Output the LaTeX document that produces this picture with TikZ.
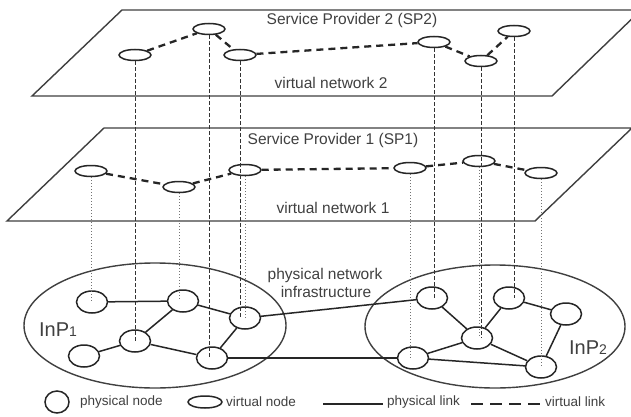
\documentclass[tikz,border=0pt]{standalone}
\usepackage{fontspec}
\setmainfont{Liberation Sans}
\usetikzlibrary{shapes.geometric}
\begin{document}
\begin{tikzpicture}[x=1pt,y=-1pt,
  pnode/.style={draw=black!85, line width=1.5pt, ellipse, minimum width=31pt, minimum height=22pt, inner sep=0pt},
  vnode/.style={draw=black!85, line width=1.5pt, ellipse, minimum width=32pt, minimum height=11pt, inner sep=0pt},
  vlink/.style={draw=black!85, line width=2.3pt, dash pattern=on 7pt off 5pt},
  plink/.style={draw=black!85, line width=1.5pt},
  vdash/.style={draw=black!80, line width=0.9pt, dash pattern=on 3.5pt off 2.5pt},
  vdot/.style={draw=black!55, line width=1pt, dash pattern=on 1pt off 2pt},
  plane/.style={draw=black!75, line width=1.4pt},
  lbl/.style={text=black!75, inner sep=0pt, font=\fontsize{15.5}{18}\selectfont},
  leg/.style={text=black!75, inner sep=0pt, anchor=west, font=\fontsize{13.5}{16}\selectfont}
]
\useasboundingbox (0,0) rectangle (631,417);
\clip (0,0) rectangle (631,417);
\fill[white] (0,0) rectangle (631,417);

% planes
\draw[plane] (122,10) -- (641,10) -- (552,96) -- (32,96) -- cycle;
\draw[plane] (104,128) -- (632,128) -- (535,221) -- (7,221) -- cycle;

\node[lbl] (t2) at (352,20) {Service Provider 2 (SP2)};
\node[lbl] (n2) at (331,83) {virtual network 2};
\node[lbl] (t1) at (333,140) {Service Provider 1 (SP1)};
\node[lbl] (n1) at (333,208) {virtual network 1};

% infrastructure ellipses
\draw[plane] (155,325.5) ellipse [x radius=131, y radius=62.5];
\draw[plane] (495,326.5) ellipse [x radius=130, y radius=61.5];
\node[lbl] (pn) at (325,275) {physical network};
\node[lbl] (inf) at (326,292) {infrastructure};
\node[text=black!75, inner sep=0pt] (inp1) at (58,330) {\fontsize{20}{24}\selectfont InP\fontsize{14}{16}\selectfont 1};
\node[text=black!75, inner sep=0pt] (inp2) at (588,348) {\fontsize{20}{24}\selectfont InP\fontsize{14}{16}\selectfont 2};

% physical nodes
\node[pnode] (a) at (92,302) {};
\node[pnode] (b) at (183,301) {};
\node[pnode] (c) at (245,318) {};
\node[pnode] (d) at (135,341) {};
\node[pnode] (e) at (84,356) {};
\node[pnode] (f) at (212,358) {};
\node[pnode] (q1) at (432,298) {};
\node[pnode] (q2) at (509,298) {};
\node[pnode] (q3) at (566,314) {};
\node[pnode] (q4) at (477,338) {};
\node[pnode] (q5) at (413,358) {};
\node[pnode] (q6) at (541,367) {};

% virtual nodes SP2
\node[vnode] (s2a) at (135,55) {};
\node[vnode] (s2b) at (209,29) {};
\node[vnode] (s2c) at (240,55) {};
\node[vnode] (s2d) at (434,42) {};
\node[vnode] (s2e) at (481,61) {};
\node[vnode] (s2f) at (514,31) {};
% virtual nodes SP1
\node[vnode] (s1a) at (91,171) {};
\node[vnode] (s1b) at (179,187) {};
\node[vnode] (s1c) at (245,170) {};
\node[vnode] (s1d) at (410,168) {};
\node[vnode] (s1e) at (479,161) {};
\node[vnode] (s1f) at (541,173) {};

% mapping lines
\draw[vdash] (s2a.south) -- (s2a.south |- d.center);
\draw[vdash] (s2b.south) -- (s2b.south |- f.center);
\draw[vdash] (s2c.south) -- (s2c.south |- c.center);
\draw[vdash] (s2d.south) -- (s2d.south |- q1.center);
\draw[vdash] (s2e.south) -- (s2e.south |- q4.center);
\draw[vdash] (s2f.south) -- (s2f.south |- q2.center);
\draw[vdot] (s1a.south) -- (s1a.south |- a.center);
\draw[vdot] (s1b.south) -- (s1b.south |- b.center);
\draw[vdot] (s1c.south) -- (s1c.south |- c.center);
\draw[vdot] (s1d.south) -- (s1d.south |- q5.center);
\draw[vdot] (s1e.south) -- (s1e.south |- q4.center);
\draw[vdot] (s1f.south) -- (s1f.south |- q6.center);

% virtual links
\draw[vlink] (s2a) -- (s2b);
\draw[vlink] (s2b) -- (s2c);
\draw[vlink] (s2c) -- (s2d);
\draw[vlink] (s2d) -- (s2e);
\draw[vlink] (s2e) -- (s2f);
\draw[vlink] (s1a) -- (s1b);
\draw[vlink] (s1b) -- (s1c);
\draw[vlink] (s1c) -- (s1d);
\draw[vlink] (s1d) -- (s1e);
\draw[vlink] (s1e) -- (s1f);

% physical links
\draw[plink] (a) -- (b);
\draw[plink] (b) -- (c);
\draw[plink] (b) -- (d);
\draw[plink] (d) -- (e);
\draw[plink] (d) -- (f);
\draw[plink] (c) -- (f);
\draw[plink] (c) -- (q1);
\draw[plink] (f) -- (q5);
\draw[plink] (q1) -- (q4);
\draw[plink] (q2) -- (q4);
\draw[plink] (q2) -- (q3);
\draw[plink] (q3) -- (q6);
\draw[plink] (q4) -- (q5);
\draw[plink] (q4) -- (q6);
\draw[plink] (q5) -- (q6);

% legend
\node[pnode, minimum width=24pt, minimum height=22pt] (lp) at (57,402) {};
\node[leg] (lpt) at (80,402) {physical node};
\node[vnode, minimum width=34pt, minimum height=12pt] (lv) at (205,402) {};
\node[leg] (lvt) at (226,402) {virtual node};
\coordinate (l1a) at (323,404);
\coordinate (l1b) at (383,404);
\draw[plink] (l1a) -- (l1b);
\node[leg] (lpl) at (387,402) {physical link};
\coordinate (l2a) at (471,404);
\coordinate (l2b) at (540,404);
\draw[vlink, dash pattern=on 12pt off 7pt] (l2a) -- (l2b);
\node[leg] (lvl) at (545,402) {virtual link};
\end{tikzpicture}
\end{document}
